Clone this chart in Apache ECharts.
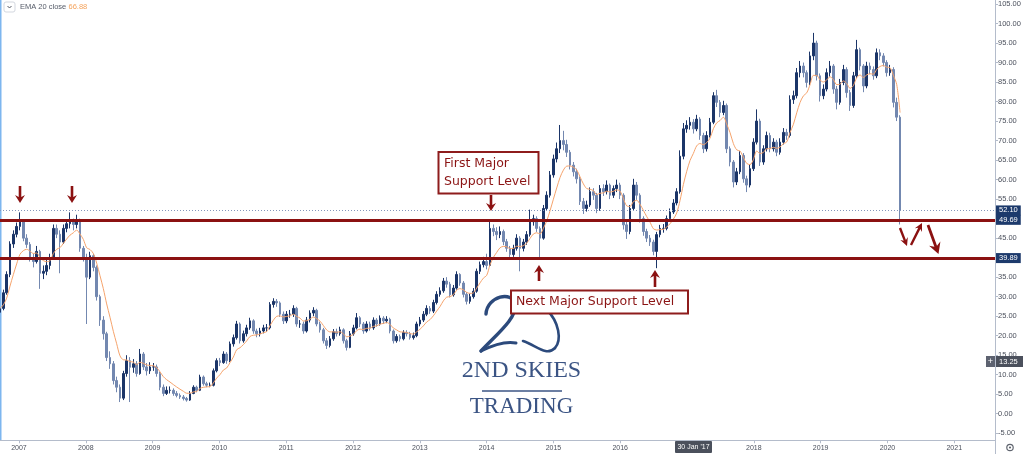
<!DOCTYPE html>
<html>
<head>
<meta charset="utf-8">
<script src="https://cdn.jsdelivr.net/npm/echarts@6/dist/echarts.min.js"></script>
<style>
html,body{margin:0;padding:0;background:#fff;}
#c{width:1024px;height:454px;}
</style>
</head>
<body>
<div id="c"></div>
<script>
// ---- Data (~2.6-week candles) ----
const firstYear = 2006.716;      // x position of first candle (fractional year)
const candleStep = 0.0499;       // years per candle
const firstOpen = 26;
const closes = [
  27, 31, 35.7, 43.5, 46, 48, 49.5, 45, 43.4, 40,
  39, 41.6, 36, 36.5, 38, 40, 47.5, 46, 44, 47.5,
  48.7, 49.2, 48.5, 49.5, 42.4, 40, 35, 40.5, 37.5, 30,
  24, 20.5, 14.4, 12.8, 8.5, 6.8, 4, 10.3, 13.6, 11.9,
  12.8, 10.3, 15.3, 12, 11, 12, 12, 10.3, 6.8, 5.2,
  6, 6, 5.2, 4.7, 4.3, 3.9, 3.5, 5.2, 6.8, 6,
  9.4, 7.7, 7.3, 7.3, 11, 13.6, 13.1, 15.3, 13.6, 17.9,
  19.5, 23, 18.7, 20.5, 22, 23.8, 21.2, 20.5, 21.2, 22,
  22, 28, 28.8, 28.4, 25.5, 23.8, 25.5, 25.5, 27, 23,
  23, 21.2, 24, 25.8, 26.5, 23, 21.5, 18.7, 17.5, 19.2,
  21, 20.5, 21.5, 18.7, 17, 20.5, 22, 24.6, 23, 21.2,
  23, 22, 24, 23, 24.5, 23.8, 24.2, 21.2, 18.7, 19.8,
  19.2, 20.8, 20.5, 19.5, 20, 23, 24, 25.5, 27, 26.3,
  28.5, 30.6, 31.5, 34, 33.2, 30.5, 32.2, 35.7, 33.5, 30.6,
  28.8, 30, 31.4, 36.5, 38.2, 39, 38, 47.5, 46.7, 45.9,
  46.7, 44.1, 42.4, 40.8, 42.4, 45, 42.4, 44, 45.9, 49.2,
  50, 47.5, 45, 52.6, 56, 61.2, 65.3, 67.9, 70, 69,
  67, 63.7, 62, 60.2, 54.4, 52.6, 53.5, 56.9, 56, 52.6,
  57.7, 56.9, 58.6, 56, 57.7, 58.6, 56, 48.4, 46.7, 52.6,
  58.6, 56, 50, 46.7, 45, 44, 41.6, 45.9, 47.5, 47.5,
  50, 51.7, 54, 56.9, 66, 73, 73.9, 74.7, 73, 75.5,
  71.3, 67.9, 71.3, 74.7, 81.5, 79.8, 77.2, 79, 67.9, 64.5,
  59.4, 62, 66.2, 60.2, 58.6, 62.8, 69.6, 75, 64.5, 67.9,
  71.3, 67.9, 69.6, 67, 69.6, 72.1, 71.3, 80.5, 81.5, 87.4,
  89.1, 87.4, 84.9, 91.7, 95, 86.6, 81.5, 83.2, 87.4, 89.1,
  83.2, 79.8, 84.9, 88.2, 82.3, 79, 86.6, 93.3, 89.1, 84,
  89.1, 88.2, 86.6, 92.5, 91.7, 90, 87.4, 88.2, 79.8, 76,
  52.1
];
const highs = [
  28, 31.8, 36.5, 44.2, 47, 49, 51.6, 49.8, 46, 44,
  41, 43, 42, 38, 39.5, 41, 48.5, 48.5, 47, 48.5,
  49.8, 51.6, 50, 51, 50, 43, 41, 41.5, 41, 38,
  30.5, 25, 21, 16, 13.5, 9.5, 7.5, 11, 15, 14.5,
  14, 13.5, 16.6, 15.8, 13, 13.2, 13, 12.6, 10.8, 7.5,
  7, 7, 6.5, 5.8, 5.2, 4.8, 4.3, 5.8, 7.3, 7.2,
  10, 9.8, 8.2, 8, 11.6, 14.2, 14.3, 16, 15.8, 18.5,
  20.3, 23.8, 23.4, 21.3, 22.8, 24.6, 24.2, 21.8, 22, 22.8,
  23, 28.6, 29.6, 29.4, 28.8, 26.2, 26.3, 26.6, 27.8, 27.4,
  24, 23.6, 24.8, 26.5, 27.3, 26.9, 23.6, 22, 19.4, 19.9,
  21.7, 21.8, 22.3, 21.9, 19.2, 21.2, 22.8, 25.8, 25, 23.5,
  23.7, 23.6, 24.7, 24.5, 25.2, 25, 25, 24.6, 21.6, 20.4,
  20.3, 21.4, 21.4, 21, 20.8, 23.6, 24.8, 26.3, 27.8, 27.6,
  29.2, 31.4, 32.4, 34.8, 35, 33.8, 33, 36.5, 36, 34,
  31.2, 30.8, 32.2, 37.2, 39, 40.2, 41, 49.5, 48.5, 47.8,
  48, 47.2, 44.8, 43, 43.3, 46, 45.5, 44.8, 46.8, 52.3,
  51, 50.6, 48, 53.5, 57, 62.2, 66.4, 69.5, 74, 72.5,
  70.2, 67.6, 64.5, 62.8, 60.8, 55.3, 54.6, 58, 57.8, 56.6,
  58.6, 58.8, 59.8, 59, 58.5, 60, 59.2, 56.5, 49.2, 53.5,
  60.2, 59.4, 56.5, 50.6, 47.4, 45.8, 44.6, 46.6, 48.4, 48.6,
  50.8, 52.6, 55, 57.8, 67.5, 74.5, 75.2, 76, 75.5, 76.6,
  76, 72, 72.4, 75.8, 82.4, 83, 80.4, 80.2, 79.5, 68.5,
  65, 63, 67.3, 66.8, 61, 63.8, 70.6, 78, 75.6, 68.8,
  72.3, 72, 70.6, 70.2, 70.6, 73.2, 73, 81.6, 82.8, 88.6,
  90.4, 90, 88, 92.8, 97.6, 95.6, 87.2, 84.4, 88.5, 90.4,
  89.6, 84, 85.8, 89.4, 88.8, 83, 87.6, 95.8, 93.8, 89.6,
  90.2, 90, 89, 93.6, 93.4, 92.4, 90.6, 89.4, 88.8, 81,
  76.5
];
const lows = [
  25.5, 26.5, 30.5, 35, 42.5, 45.2, 47, 44.2, 42.5, 39,
  37.5, 38.5, 32, 34.5, 35.5, 37, 39.5, 45, 36, 43.5,
  46.5, 47.5, 47, 47.5, 41.5, 39, 23, 34.5, 36.5, 29,
  22.5, 19, 13.5, 11.5, 7.5, 5.5, 3, 3.5, 9.5, 3,
  10.5, 9.5, 10, 11.2, 9.8, 10.2, 11, 9.5, 6, 4.5,
  4.8, 5.2, 4.6, 4.2, 3.8, 3.4, 3.1, 3.3, 5, 5.5,
  5.8, 7.2, 6.8, 6.8, 7, 10.6, 12.2, 12.8, 12.8, 13.2,
  17.2, 19, 18, 18.2, 19.8, 21.5, 20.5, 19.6, 19.8, 20.6,
  21, 21.6, 27.2, 27.4, 24.8, 23, 23.2, 24.6, 24.8, 22.3,
  22, 20.5, 20.8, 23.4, 25, 22.4, 20.8, 18, 16.6, 17,
  18.7, 19.8, 20, 18, 16.2, 16.8, 20, 21.6, 22.2, 20.5,
  20.8, 21.3, 21.5, 22.3, 22.6, 23, 23.2, 20.6, 18, 18.2,
  18.5, 18.8, 19.8, 19, 19, 19.6, 22.4, 23.5, 25, 25.6,
  25.8, 28, 30, 31, 32.3, 29.8, 30, 31.8, 32.8, 29.8,
  28, 28.2, 29.5, 31, 35.8, 37.5, 37, 37.8, 45.5, 44.5,
  45, 43.2, 41.5, 39.8, 40.2, 41.8, 36.5, 41.6, 43.3, 45.4,
  48.2, 46.6, 39.6, 44.6, 52, 55.4, 60.5, 64.4, 66.8, 67.5,
  65.8, 62.6, 60.8, 59, 53.5, 51.2, 51.8, 53, 54.8, 51.4,
  52, 55.8, 56.2, 55, 55.3, 56.8, 55, 47.2, 44.8, 46,
  52, 54.8, 49, 45.6, 44, 43, 40.6, 37.3, 45.2, 46.4,
  47, 49.4, 51.2, 53.4, 56.4, 65.2, 72, 72.8, 71.8, 72.4,
  70.2, 66.8, 67.2, 70.8, 74.2, 78.6, 76, 76.5, 66.8, 63.4,
  58, 58.6, 61.4, 59.2, 56.8, 58, 62.2, 69, 63.5, 63.8,
  67.2, 67, 67.2, 66, 66.4, 69, 70.2, 70.8, 79.4, 80.8,
  86.2, 86.2, 83.6, 84.2, 90.6, 85.4, 80, 80.6, 82.6, 86.4,
  82, 78, 79.2, 84.2, 81, 77.6, 78.4, 86, 88, 82.4,
  83.4, 87, 85.6, 86, 90.6, 89, 86.4, 86.6, 78.5, 75,
  48.5
];
const yearTicks = [2007,2008,2009,2010,2011,2012,2013,2014,2015,2016,2017,2018,2019,2020,2021];
const supportLevels = [49.69, 39.89];
const lastPrice = 52.10;
const emaPeriod = 8;   // EMA over 2.6-week candles ~ weekly EMA 20
const emaLabel = 'EMA 20 close';
const emaLegendValue = '66.88';

// ---- Build series data ----
const xs = closes.map((_, i) => +(firstYear + i * candleStep).toFixed(4));
const candles = closes.map((c, i) => {
  const o = i === 0 ? firstOpen : closes[i - 1];
  return [xs[i], o, c, lows[i], highs[i]];
});
const alpha = 2 / (emaPeriod + 1);
const ema = [];
closes.forEach((c, i) => {
  const prev = i === 0 ? c : ema[i - 1][1];
  ema.push([xs[i], i === 0 ? c : alpha * c + (1 - alpha) * prev]);
});

const RED = '#8b1111';
function arrow(x1, y1, x2, y2, sw, hw, hl) {
  const dx = x2 - x1, dy = y2 - y1, L = Math.hypot(dx, dy);
  const ux = dx / L, uy = dy / L, nx = -uy, ny = ux;
  const bx = x2 - ux * hl, by = y2 - uy * hl;
  const nbx = x2 - ux * hl * 0.75, nby = y2 - uy * hl * 0.75;
  return {
    type: 'polygon', silent: true, z: 20,
    shape: { points: [
      [x1 + nx * sw / 2, y1 + ny * sw / 2],
      [nbx + nx * sw / 2, nby + ny * sw / 2],
      [bx + nx * hw / 2, by + ny * hw / 2],
      [x2, y2],
      [bx - nx * hw / 2, by - ny * hw / 2],
      [nbx - nx * sw / 2, nby - ny * sw / 2],
      [x1 - nx * sw / 2, y1 - ny * sw / 2]
    ]},
    style: { fill: RED }
  };
}
function curve(x1, y1, c1x, c1y, c2x, c2y, x2, y2, w) {
  return {
    type: 'bezierCurve', silent: true, z: 15,
    shape: { x1: x1, y1: y1, cpx1: c1x, cpy1: c1y, cpx2: c2x, cpy2: c2y, x2: x2, y2: y2 },
    style: { stroke: '#2c4a7c', lineWidth: w, fill: null, lineCap: 'round' }
  };
}

const chart = echarts.init(document.getElementById('c'), null, { renderer: 'canvas' });
const axisColor = '#b4bccb';
const labelColor = '#4b505c';

const markLabel = (bg) => ({
  show: true, position: 'end', distance: 1,
  formatter: p => Number(p.value).toFixed(2),
  color: '#fff', backgroundColor: bg, padding: [1, 3, 1, 3],
  fontSize: 7.5, fontFamily: 'Liberation Sans, Arial, sans-serif'
});

chart.setOption({
  animation: false,
  backgroundColor: '#fff',
  grid: { left: 0, right: 29, top: 0.95, bottom: 20.75, containLabel: false },
  xAxis: {
    type: 'value', min: 2006.716, max: 2021.61, offset: 7,
    axisLine: { show: true, onZero: false, lineStyle: { color: axisColor, width: 1 } },
    axisTick: { show: true, length: 3, customValues: yearTicks, lineStyle: { color: axisColor } },
    axisLabel: {
      show: true, customValues: yearTicks, formatter: v => String(v),
      color: labelColor, fontSize: 7, margin: 4,
      fontFamily: 'Liberation Sans, Arial, sans-serif'
    },
    splitLine: { show: false }
  },
  yAxis: {
    type: 'value', position: 'right', min: -5, max: 105, interval: 5,
    axisLine: { show: true, onZero: false, lineStyle: { color: axisColor, width: 1 } },
    axisTick: { show: true, length: 3, lineStyle: { color: axisColor } },
    axisLabel: {
      formatter: v => v.toFixed(2), color: labelColor, fontSize: 7.5, margin: 3,
      fontFamily: 'Liberation Sans, Arial, sans-serif'
    },
    splitLine: { show: false }
  },
  series: [
    {
      type: 'candlestick', name: 'price', data: candles, barWidth: 2.2,
      itemStyle: { color: '#1b3568', color0: '#7388b0', borderColor: '#1b3568', borderColor0: '#7388b0', borderWidth: 1 },
      markLine: {
        silent: true, symbol: 'none', animation: false,
        data: [
          { yAxis: lastPrice, lineStyle: { color: '#8597bb', type: [1, 2], width: 1 }, label: markLabel('#1d3a6c') },
          { yAxis: supportLevels[0], lineStyle: { color: RED, type: 'solid', width: 3 }, label: markLabel('#1d3a6c') },
          { yAxis: supportLevels[1], lineStyle: { color: RED, type: 'solid', width: 3 }, label: markLabel('#1d3a6c') }
        ]
      },
      z: 2
    },
    {
      type: 'line', name: emaLabel, data: ema, showSymbol: false, smooth: 0.3,
      lineStyle: { color: '#f5a36c', width: 1 }, z: 3
    }
  ],
  graphic: [
    { type: 'rect', shape: { x: 0, y: 0, width: 1.5, height: 440 }, style: { fill: '#7db6ef' }, silent: true },
    { type: 'line', shape: { x1: 995.5, y1: 0, x2: 995.5, y2: 454 }, style: { stroke: axisColor, lineWidth: 1 }, silent: true },
    { type: 'rect', shape: { x: 4, y: 2, width: 11, height: 10, r: 2 }, style: { fill: '#fff', stroke: '#d3d7df', lineWidth: 1 }, silent: true },
    { type: 'polyline', shape: { points: [[7.5, 6], [9.5, 8], [11.5, 6]] }, style: { stroke: '#555a66', lineWidth: 1, fill: null }, silent: true },
    { type: 'text', x: 20, y: 7, style: { text: emaLabel, fill: '#555b68', fontSize: 7.5, fontFamily: 'Liberation Sans, Arial, sans-serif', verticalAlign: 'middle' }, silent: true },
    { type: 'text', x: 68.5, y: 7, style: { text: emaLegendValue, fill: '#f5a35c', fontSize: 7.5, fontFamily: 'Liberation Sans, Arial, sans-serif', verticalAlign: 'middle' }, silent: true },
    { type: 'rect', shape: { x: 438.5, y: 152, width: 100, height: 41.5 }, style: { fill: '#fff', stroke: '#8e1c1c', lineWidth: 2 }, z: 20, silent: true },
    { type: 'text', x: 444, y: 155, z: 21, style: { text: 'First Major\nSupport Level', fill: '#8b1414', fontSize: 12.5, lineHeight: 17.5, fontFamily: 'DejaVu Sans, sans-serif' }, silent: true },
    { type: 'rect', shape: { x: 511, y: 290.5, width: 177, height: 23 }, style: { fill: '#fff', stroke: '#8e1c1c', lineWidth: 2 }, z: 20, silent: true },
    { type: 'text', x: 516, y: 293, z: 21, style: { text: 'Next Major Support Level', fill: '#8b1414', fontSize: 12.5, lineHeight: 17, fontFamily: 'DejaVu Sans, sans-serif' }, silent: true },
    arrow(20, 186, 20, 203, 2.6, 10, 8),
    arrow(72, 186, 72, 203, 2.6, 10, 8),
    arrow(491, 195, 491, 211, 2.6, 10, 8),
    arrow(539, 281, 539, 265, 2.6, 10, 8),
    arrow(655, 287, 655, 270, 2.6, 10, 8),
    arrow(900, 228, 907, 246, 2.4, 8, 8),
    arrow(911, 245, 922, 223, 2.4, 8, 8),
    arrow(928, 225, 938.5, 254, 2.8, 12, 11),
    curve(486, 314, 487, 296, 513, 290, 515, 305, 3.4),
    curve(515, 305, 517, 318, 497, 334, 481, 351, 3.4),
    curve(481, 351, 493, 345, 506, 341, 516, 343, 3),
    curve(523, 341, 536, 345, 546, 357, 555, 348, 2.6),
    curve(555, 348, 562, 340, 559, 322, 547, 310, 2.6),
    { type: 'text', x: 521.5, y: 383, z: 15, silent: true,
      style: { text: '2ND SKIES', fill: '#3b5484', fontSize: 24, fontFamily: 'Liberation Serif, DejaVu Serif, serif', align: 'center', verticalAlign: 'bottom' } },
    { type: 'line', z: 15, silent: true, shape: { x1: 482, y1: 391, x2: 562, y2: 391 }, style: { stroke: '#3b5484', lineWidth: 1.5 } },
    { type: 'text', x: 521.5, y: 418, z: 15, silent: true,
      style: { text: 'TRADING', fill: '#3b5484', fontSize: 23, fontFamily: 'Liberation Serif, DejaVu Serif, serif', align: 'center', verticalAlign: 'bottom' } },
    { type: 'rect', z: 30, silent: true, shape: { x: 675, y: 441, width: 37, height: 12, r: 1 }, style: { fill: '#4b505c' } },
    { type: 'text', z: 31, silent: true, x: 693.5, y: 447, style: { text: "30 Jan '17", fill: '#fff', fontSize: 7, align: 'center', verticalAlign: 'middle', fontFamily: 'Liberation Sans, Arial, sans-serif' } },
    { type: 'rect', z: 30, silent: true, shape: { x: 986, y: 356, width: 9, height: 11 }, style: { fill: '#5d6270' } },
    { type: 'text', z: 31, silent: true, x: 990.5, y: 361.5, style: { text: '+', fill: '#fff', fontSize: 9, align: 'center', verticalAlign: 'middle', fontFamily: 'Liberation Sans, Arial, sans-serif' } },
    { type: 'rect', z: 30, silent: true, shape: { x: 996, y: 356, width: 27, height: 11 }, style: { fill: '#4b505c' } },
    { type: 'text', z: 31, silent: true, x: 999, y: 361.5, style: { text: '13.25', fill: '#fff', fontSize: 7.5, verticalAlign: 'middle', fontFamily: 'Liberation Sans, Arial, sans-serif' } },
    { type: 'circle', z: 30, silent: true, shape: { cx: 1010, cy: 447.5, r: 3.2 }, style: { fill: '#fff', stroke: '#60656f', lineWidth: 1.2 } },
    { type: 'circle', z: 31, silent: true, shape: { cx: 1010, cy: 447.5, r: 1.1 }, style: { fill: '#60656f' } }
  ]
});
</script>
</body>
</html>
